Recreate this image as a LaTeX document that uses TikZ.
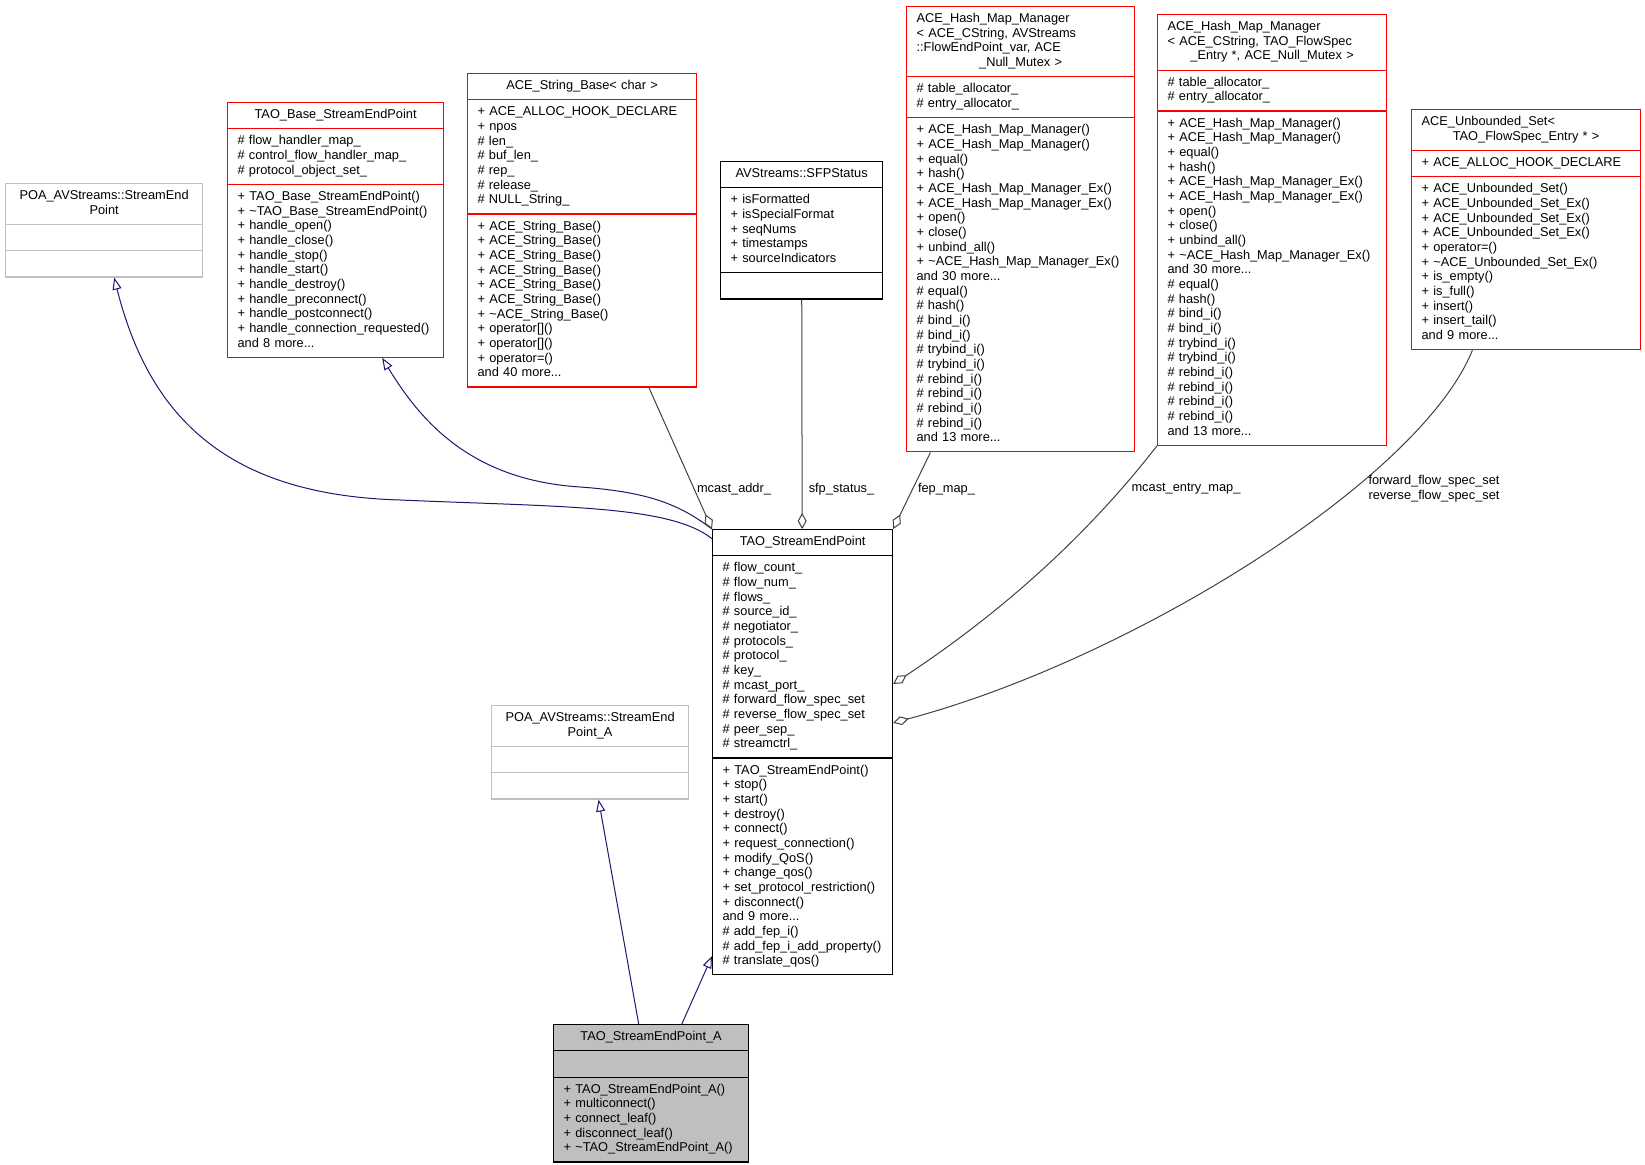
\documentclass[tikz,border=0pt]{standalone}
\usepackage{fontspec}
\setmainfont{Liberation Sans}
\usetikzlibrary{shapes.multipart,arrows.meta}

\definecolor{inhblue}{HTML}{191970}
\definecolor{usegray}{HTML}{404040}
\definecolor{boxgray}{HTML}{BFBFBF}
\definecolor{boxred}{HTML}{FF0000}

\newcommand{\classparts}[3]{\strut#1\strut\par\nodepart{two}\strut#2\strut\nodepart{three}\strut#3\strut}
\newcommand{\lline}[1]{\makebox[\linewidth][l]{#1}}

\tikzset{
	umlclass/.style={rectangle split, rectangle split parts=3, rectangle split draw splits, draw, line width=0.6pt, anchor=north west, inner xsep=5pt, inner ysep=2.6pt, align=left, font=\fontsize{6.4}{7.33}\selectfont},
	redclass/.style={umlclass, draw=boxred},
	grayclass/.style={umlclass, draw=boxgray},
	blackclass/.style={umlclass, draw=black},
	thisclass/.style={umlclass, draw=black, fill=boxgray},
	inherit/.style={draw=inhblue, line width=0.5pt, -{Triangle[fill=white, length=6pt, width=4.5pt]}},
	member/.style={draw=usegray, line width=0.5pt, -{Diamond[fill=white, length=8pt, width=4.5pt]}},
	lbl/.style={font=\fontsize{6.4}{7.33}\selectfont, inner sep=0pt, align=center}
}

\begin{document}
\begin{tikzpicture}
	\begin{scope}[x=0.5pt,y=-0.5pt]
		\useasboundingbox (0,0) rectangle (1645,1165);
		\node [grayclass, text width=88.5pt] (poasep) at (5,183)
			{\classparts{\centering POA\_AVStreams::StreamEnd\\Point}{}{}};
		\node [redclass, text width=98pt] (basesep) at (227,102)
			{\classparts{\centering TAO\_Base\_StreamEndPoint}
			{\# flow\_handler\_map\_\\\# control\_flow\_handler\_map\_\\\# protocol\_object\_set\_}
			{+ TAO\_Base\_StreamEndPoint()\\+ \textasciitilde TAO\_Base\_StreamEndPoint()\\+ handle\_open()\\+ handle\_close()\\+ handle\_stop()\\+ handle\_start()\\+ handle\_destroy()\\+ handle\_preconnect()\\+ handle\_postconnect()\\+ handle\_connection\_requested()\\and 8 more...}};
		\node [redclass, text width=104.5pt] (strbase) at (467,73)
			{\classparts{\centering ACE\_String\_Base< char >}
			{+ ACE\_ALLOC\_HOOK\_DECLARE\\+ npos\\\# len\_\\\# buf\_len\_\\\# rep\_\\\# release\_\\\# NULL\_String\_}
			{+ ACE\_String\_Base()\\+ ACE\_String\_Base()\\+ ACE\_String\_Base()\\+ ACE\_String\_Base()\\+ ACE\_String\_Base()\\+ ACE\_String\_Base()\\+ \textasciitilde ACE\_String\_Base()\\+ operator[]()\\+ operator[]()\\+ operator=()\\and 40 more...}};
		\node [blackclass, text width=71pt] (sfpstatus) at (720,161)
			{\classparts{\centering AVStreams::SFPStatus}
			{+ isFormatted\\+ isSpecialFormat\\+ seqNums\\+ timestamps\\+ sourceIndicators}{}};
		\node [redclass, text width=104pt] (hashfep) at (906,6)
			{\classparts{\centering \lline{ACE\_Hash\_Map\_Manager}\\\lline{< ACE\_CString, AVStreams}\\\lline{::FlowEndPoint\_var, ACE}\\\_Null\_Mutex >}
			{\# table\_allocator\_\\\# entry\_allocator\_}
			{+ ACE\_Hash\_Map\_Manager()\\+ ACE\_Hash\_Map\_Manager()\\+ equal()\\+ hash()\\+ ACE\_Hash\_Map\_Manager\_Ex()\\+ ACE\_Hash\_Map\_Manager\_Ex()\\+ open()\\+ close()\\+ unbind\_all()\\+ \textasciitilde ACE\_Hash\_Map\_Manager\_Ex()\\and 30 more...\\\# equal()\\\# hash()\\\# bind\_i()\\\# bind\_i()\\\# trybind\_i()\\\# trybind\_i()\\\# rebind\_i()\\\# rebind\_i()\\\# rebind\_i()\\\# rebind\_i()\\and 13 more...}};
		\node [redclass, text width=104.5pt] (hashentry) at (1157,14)
			{\classparts{\centering \lline{ACE\_Hash\_Map\_Manager}\\\lline{< ACE\_CString, TAO\_FlowSpec}\\\_Entry *, ACE\_Null\_Mutex >}
			{\# table\_allocator\_\\\# entry\_allocator\_}
			{+ ACE\_Hash\_Map\_Manager()\\+ ACE\_Hash\_Map\_Manager()\\+ equal()\\+ hash()\\+ ACE\_Hash\_Map\_Manager\_Ex()\\+ ACE\_Hash\_Map\_Manager\_Ex()\\+ open()\\+ close()\\+ unbind\_all()\\+ \textasciitilde ACE\_Hash\_Map\_Manager\_Ex()\\and 30 more...\\\# equal()\\\# hash()\\\# bind\_i()\\\# bind\_i()\\\# trybind\_i()\\\# trybind\_i()\\\# rebind\_i()\\\# rebind\_i()\\\# rebind\_i()\\\# rebind\_i()\\and 13 more...}};
		\node [redclass, text width=104.5pt] (flowset) at (1411,109)
			{\classparts{\centering \lline{ACE\_Unbounded\_Set<}\\TAO\_FlowSpec\_Entry * >}
			{+ ACE\_ALLOC\_HOOK\_DECLARE}
			{+ ACE\_Unbounded\_Set()\\+ ACE\_Unbounded\_Set\_Ex()\\+ ACE\_Unbounded\_Set\_Ex()\\+ ACE\_Unbounded\_Set\_Ex()\\+ operator=()\\+ \textasciitilde ACE\_Unbounded\_Set\_Ex()\\+ is\_empty()\\+ is\_full()\\+ insert()\\+ insert\_tail()\\and 9 more...}};
		\node [blackclass, text width=80pt] (sep) at (712,529)
			{\classparts{\centering TAO\_StreamEndPoint}
			{\# flow\_count\_\\\# flow\_num\_\\\# flows\_\\\# source\_id\_\\\# negotiator\_\\\# protocols\_\\\# protocol\_\\\# key\_\\\# mcast\_port\_\\\# forward\_flow\_spec\_set\\\# reverse\_flow\_spec\_set\\\# peer\_sep\_\\\# streamctrl\_}
			{+ TAO\_StreamEndPoint()\\+ stop()\\+ start()\\+ destroy()\\+ connect()\\+ request\_connection()\\+ modify\_QoS()\\+ change\_qos()\\+ set\_protocol\_restriction()\\+ disconnect()\\and 9 more...\\\# add\_fep\_i()\\\# add\_fep\_i\_add\_property()\\\# translate\_qos()}};
		\node [grayclass, text width=88.5pt] (poasepa) at (491,705)
			{\classparts{\centering POA\_AVStreams::StreamEnd\\Point\_A}{}{}};
		\node [thisclass, text width=87.5pt] (sepa) at (553,1024)
			{\classparts{\centering TAO\_StreamEndPoint\_A}{}
			{+ TAO\_StreamEndPoint\_A()\\+ multiconnect()\\+ connect\_leaf()\\+ disconnect\_leaf()\\+ \textasciitilde TAO\_StreamEndPoint\_A()}};

		\draw [inherit] (sepa) -- (poasepa);
		\draw [inherit] (sepa) -- (sep);
		\draw [inherit] (sep.north west) .. controls (680,505) and (650,492) .. (580,487) .. controls (470,480) and (420,420) .. (basesep.-70);
		\draw [inherit] (sep.113) .. controls (670,505) and (560,507) .. (400,500) .. controls (230,495) and (150,420) .. (poasep.-78);

		\draw [member] (strbase.-67) -- (sep.north west);
		\draw [member] (sfpstatus) -- (sep);
		\draw [member] (hashfep.-112) -- (sep.north east);
		\draw [member] (hashentry.south west) .. controls (1080,545) and (990,620) .. (sep.37);
		\draw [member] (flowset.-114) .. controls (1420,480) and (1130,660) .. (sep.18);

		\node [lbl] (addrlbl) at (734,489) {mcast\_addr\_};
		\node [lbl] (sfplbl) at (841.5,489) {sfp\_status\_};
		\node [lbl] (feplbl) at (946.5,489) {fep\_map\_};
		\node [lbl] (entrylbl) at (1186,489) {mcast\_entry\_map\_};
		\node [lbl] (speclbl) at (1434,488.5) {forward\_flow\_spec\_set\\reverse\_flow\_spec\_set};
	\end{scope}
\end{tikzpicture}
\end{document}
